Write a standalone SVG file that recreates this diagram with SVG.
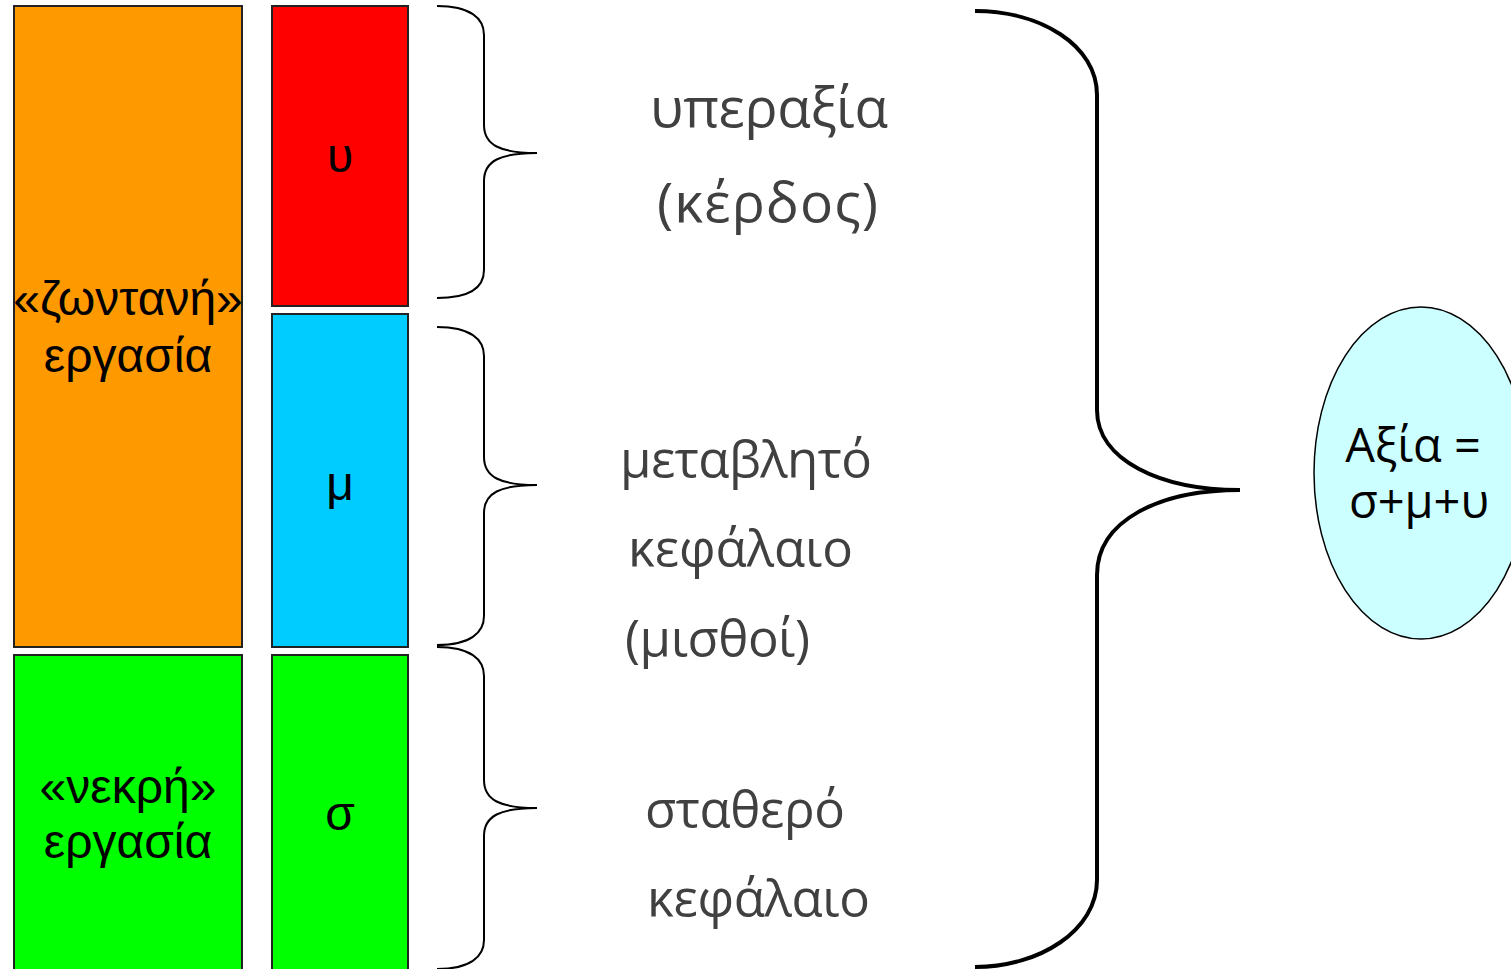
<svg xmlns="http://www.w3.org/2000/svg" width="1511" height="969" viewBox="0 0 1511 969">
<style>
.box{stroke:#222;stroke-width:2}
.lbl{font-family:"Liberation Sans",Arial,sans-serif;font-size:48px;fill:#000;text-anchor:middle}
.cap{font-family:"Open Sans","Noto Sans",sans-serif;font-size:51px;fill:#404040}
.big{font-size:55px}
.br{fill:none;stroke:#000;stroke-width:2}
.bbr{fill:none;stroke:#000;stroke-width:4}
.ell{font-family:"Open Sans","Noto Sans",sans-serif;font-size:47px;fill:#000;text-anchor:middle}
</style>
<rect width="1511" height="969" fill="#fff"/>
<g id="living">
<rect class="box" x="14" y="6" width="228" height="641" fill="#ff9900"/>
<text class="lbl" x="128" y="315">«ζωντανή»</text>
<text class="lbl" x="128" y="372">εργασία</text>
</g>
<g id="dead">
<rect class="box" x="14" y="655" width="228" height="320" fill="#00ff00"/>
<text class="lbl" x="128" y="803">«νεκρή»</text>
<text class="lbl" x="128" y="858">εργασία</text>
</g>
<g id="u">
<rect class="box" x="272" y="6" width="136" height="300" fill="#ff0000"/>
<text class="lbl" x="340" y="172">υ</text>
</g>
<g id="m">
<rect class="box" x="272" y="314" width="136" height="333" fill="#00ccff"/>
<text class="lbl" x="340" y="500">μ</text>
</g>
<g id="s">
<rect class="box" x="272" y="655" width="136" height="320" fill="#00ff00"/>
<text class="lbl" x="340" y="830">σ</text>
</g>
<g id="connectors">
<path class="br" d="M437,6 C470,6 484,18 484,35 L484,125 C484,145 500,153 537,153 C500,153 484,161 484,181 L484,270 C484,287 470,298 437,298"/>
<path class="br" d="M437,327 C470,327 484,339 484,356 L484,457 C484,477 500,485 537,485 C500,485 484,493 484,513 L484,616 C484,633 470,645 437,645"/>
<path class="br" d="M437,647 C470,647 484,659 484,676 L484,780 C484,800 500,808 537,808 C500,808 484,816 484,836 L484,940 C484,957 470,969 437,969"/>
<path class="bbr" d="M975,11 C1040,11 1097,45 1097,95 L1097,410 C1097,460 1160,490 1240,490 C1160,490 1097,520 1097,575 L1097,880 C1097,930 1040,967 975,967"/>
</g>
<g id="cap-u">
<text class="cap big" x="650" y="127" textLength="238">υπεραξία</text>
<text class="cap big" x="657" y="222" textLength="221">(κέρδος)</text>
</g>
<g id="cap-m">
<text class="cap" x="620" y="478" textLength="252">μεταβλητό</text>
<text class="cap" x="628" y="567" textLength="225">κεφάλαιο</text>
<text class="cap" x="625" y="657" textLength="185">(μισθοί)</text>
</g>
<g id="cap-s">
<text class="cap" x="645" y="828" textLength="200">σταθερό</text>
<text class="cap" x="647" y="917" textLength="223">κεφάλαιο</text>
</g>
<g id="value">
<ellipse cx="1421" cy="473" rx="107" ry="166" fill="#ccffff" stroke="#000" stroke-width="1.5"/>
<text class="ell" x="1413" y="462">Αξία =</text>
<text class="ell" x="1419" y="518">σ+μ+υ</text>
</g>
</svg>
